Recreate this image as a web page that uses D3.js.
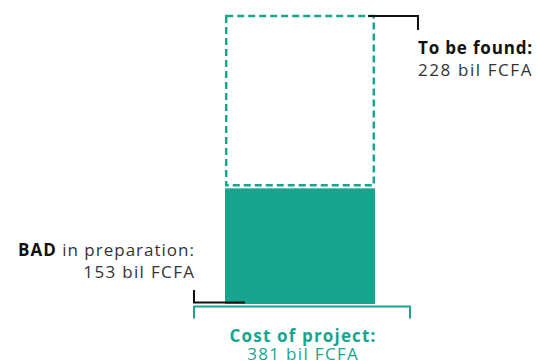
<!DOCTYPE html>
<html><head><meta charset="utf-8">
<script src="https://cdn.jsdelivr.net/npm/d3@7"></script>
<style>body{margin:0;background:#fff;} svg{display:block;}</style>
</head><body>
<script>
const categories = ["Project"];
const segments = ["BAD in preparation", "To be found"];
const values = [153, 228];
const total = 381;

const W = 538, H = 361;
const teal = "#16a68f";
const font = "'Open Sans', sans-serif";
const svg = d3.select("body").append("svg").attr("width", W).attr("height", H);

const x = d3.scaleBand().domain(categories).range([225, 375]).padding(0);
const y = d3.scaleLinear().domain([0, total]).range([304, 16]);

const stack = [{ key: segments[0], y0: 0, y1: values[0] }, { key: segments[1], y0: values[0], y1: values[0] + values[1] }];

svg.append("rect")
  .attr("x", x(categories[0])).attr("width", x.bandwidth())
  .attr("y", y(stack[0].y1)).attr("height", y(stack[0].y0) - y(stack[0].y1))
  .attr("fill", teal);

svg.append("rect")
  .attr("x", x(categories[0]) + 1.2).attr("width", x.bandwidth() - 2.4)
  .attr("y", y(stack[1].y1)).attr("height", y(stack[1].y0) - y(stack[1].y1) - 3)
  .attr("fill", "none").attr("stroke", teal).attr("stroke-width", 2.5)
  .attr("stroke-dasharray", "7,4");

const by = y(0) + 2.5;
svg.append("path")
  .attr("d", `M194,${by + 12}V${by}H410V${by + 12}`)
  .attr("fill", "none").attr("stroke", teal).attr("stroke-width", 2);

svg.append("path")
  .attr("d", `M194,${y(0) - 14}V${y(0) - 1.5}H245`)
  .attr("fill", "none").attr("stroke", "#111").attr("stroke-width", 2);

svg.append("path")
  .attr("d", `M368,${y(total)}H418V${y(total) + 14}`)
  .attr("fill", "none").attr("stroke", "#111").attr("stroke-width", 2);

const fs = 17;
// widen text to the wide geometric face of the original
function fit(sel, target) {
  const node = sel.node();
  const w = node.getComputedTextLength();
  const n = node.textContent.length;
  const ls = Math.max(0, (target - w) / n);
  sel.attr("letter-spacing", ls);
  const anchor = sel.attr("text-anchor");
  const x0 = +sel.attr("x");
  if (anchor === "end") sel.attr("x", x0 + ls);
  else if (anchor === "middle") sel.attr("x", x0 + ls / 2);
  return sel;
}

const t1 = svg.append("text").attr("x", 194).attr("y", 255.5).attr("text-anchor", "end")
  .attr("font-family", font).attr("font-size", fs).attr("fill", "#333");
t1.append("tspan").attr("font-weight", 700).attr("fill", "#111").text("BAD");
t1.append("tspan").attr("font-weight", 400).text(" in preparation:");
fit(t1, 177);
fit(svg.append("text").attr("x", 194).attr("y", 278).attr("text-anchor", "end")
  .attr("font-family", font).attr("font-size", fs).attr("font-weight", 400).attr("fill", "#333")
  .text(values[0] + " bil FCFA"), 112);

fit(svg.append("text").attr("x", 418).attr("y", 53.5)
  .attr("font-family", font).attr("font-size", fs).attr("font-weight", 700).attr("fill", "#111")
  .text("To be found:"), 115);
fit(svg.append("text").attr("x", 418).attr("y", 76)
  .attr("font-family", font).attr("font-size", fs).attr("font-weight", 400).attr("fill", "#333")
  .text(values[1] + " bil FCFA"), 115);

fit(svg.append("text").attr("x", 302.5).attr("y", 341.5).attr("text-anchor", "middle")
  .attr("font-family", font).attr("font-size", fs).attr("font-weight", 700).attr("fill", teal)
  .text("Cost of project:"), 147);
fit(svg.append("text").attr("x", 302.5).attr("y", 360).attr("text-anchor", "middle")
  .attr("font-family", font).attr("font-size", fs).attr("font-weight", 400).attr("fill", teal)
  .text(total + " bil FCFA"), 112);
</script>
</body></html>
